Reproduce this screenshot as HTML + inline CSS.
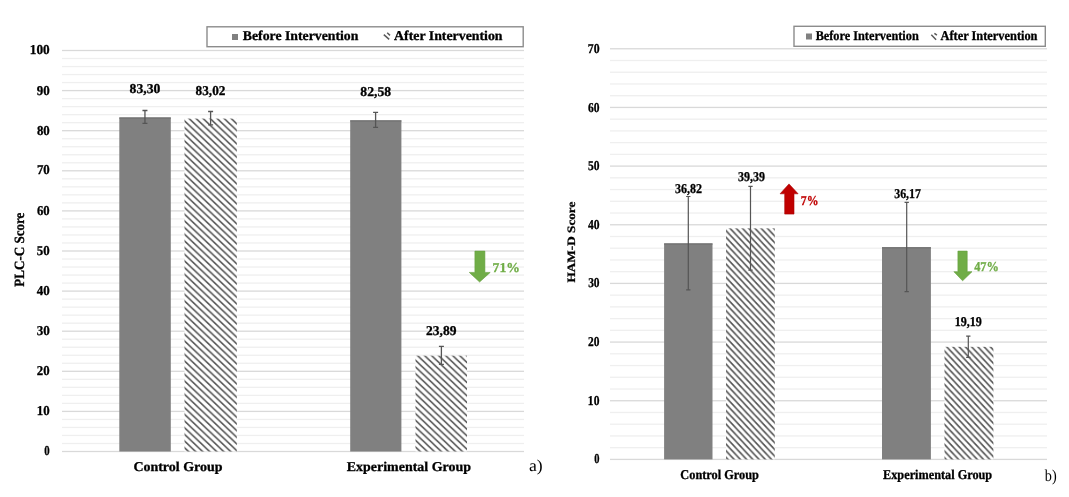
<!DOCTYPE html><html><head><meta charset="utf-8"><style>
html,body{margin:0;padding:0;background:#fff;width:1069px;height:497px;overflow:hidden}
svg{display:block}svg{filter:blur(0.35px)}
text{font-family:"Liberation Serif",serif;text-rendering:geometricPrecision}
.b{font-weight:bold;font-size:13.5px;stroke-width:0.3px}
.r{font-weight:normal;font-size:16.5px}
</style></head><body>
<svg width="1069" height="497" viewBox="0 0 1069 497">
<defs>
<pattern id="hl" patternUnits="userSpaceOnUse" width="7.0211" height="6.67"><rect x="-1" y="-1" width="9.021" height="8.67" fill="#fff"/><path d="M-1.500,-2.495 L8.521,7.025 M-1.500,4.175 L8.521,13.695 M-1.500,10.845 L8.521,20.365" stroke="#555555" stroke-width="1.6"/></pattern>
<pattern id="hr" patternUnits="userSpaceOnUse" width="6.2336" height="6.67"><rect x="-1" y="-1" width="8.234" height="8.67" fill="#fff"/><path d="M-1.500,-7.475 L7.734,2.405 M-1.500,-0.805 L7.734,9.075 M-1.500,5.865 L7.734,15.745" stroke="#555555" stroke-width="1.6"/></pattern>
</defs>
<rect x="62" y="450.85" width="462" height="1.3" fill="#d9d9d9"/>
<rect x="62" y="442.83" width="462" height="1.3" fill="#efefef"/>
<rect x="62" y="434.81" width="462" height="1.3" fill="#efefef"/>
<rect x="62" y="426.79" width="462" height="1.3" fill="#efefef"/>
<rect x="62" y="418.77" width="462" height="1.3" fill="#efefef"/>
<rect x="62" y="410.75" width="462" height="1.3" fill="#d9d9d9"/>
<rect x="62" y="402.73" width="462" height="1.3" fill="#efefef"/>
<rect x="62" y="394.71" width="462" height="1.3" fill="#efefef"/>
<rect x="62" y="386.69" width="462" height="1.3" fill="#efefef"/>
<rect x="62" y="378.67" width="462" height="1.3" fill="#efefef"/>
<rect x="62" y="370.65" width="462" height="1.3" fill="#d9d9d9"/>
<rect x="62" y="362.63" width="462" height="1.3" fill="#efefef"/>
<rect x="62" y="354.61" width="462" height="1.3" fill="#efefef"/>
<rect x="62" y="346.59" width="462" height="1.3" fill="#efefef"/>
<rect x="62" y="338.57" width="462" height="1.3" fill="#efefef"/>
<rect x="62" y="330.55" width="462" height="1.3" fill="#d9d9d9"/>
<rect x="62" y="322.53" width="462" height="1.3" fill="#efefef"/>
<rect x="62" y="314.51" width="462" height="1.3" fill="#efefef"/>
<rect x="62" y="306.49" width="462" height="1.3" fill="#efefef"/>
<rect x="62" y="298.47" width="462" height="1.3" fill="#efefef"/>
<rect x="62" y="290.45" width="462" height="1.3" fill="#d9d9d9"/>
<rect x="62" y="282.43" width="462" height="1.3" fill="#efefef"/>
<rect x="62" y="274.41" width="462" height="1.3" fill="#efefef"/>
<rect x="62" y="266.39" width="462" height="1.3" fill="#efefef"/>
<rect x="62" y="258.37" width="462" height="1.3" fill="#efefef"/>
<rect x="62" y="250.35" width="462" height="1.3" fill="#d9d9d9"/>
<rect x="62" y="242.33" width="462" height="1.3" fill="#efefef"/>
<rect x="62" y="234.31" width="462" height="1.3" fill="#efefef"/>
<rect x="62" y="226.29" width="462" height="1.3" fill="#efefef"/>
<rect x="62" y="218.27" width="462" height="1.3" fill="#efefef"/>
<rect x="62" y="210.25" width="462" height="1.3" fill="#d9d9d9"/>
<rect x="62" y="202.23" width="462" height="1.3" fill="#efefef"/>
<rect x="62" y="194.21" width="462" height="1.3" fill="#efefef"/>
<rect x="62" y="186.19" width="462" height="1.3" fill="#efefef"/>
<rect x="62" y="178.17" width="462" height="1.3" fill="#efefef"/>
<rect x="62" y="170.15" width="462" height="1.3" fill="#d9d9d9"/>
<rect x="62" y="162.13" width="462" height="1.3" fill="#efefef"/>
<rect x="62" y="154.11" width="462" height="1.3" fill="#efefef"/>
<rect x="62" y="146.09" width="462" height="1.3" fill="#efefef"/>
<rect x="62" y="138.07" width="462" height="1.3" fill="#efefef"/>
<rect x="62" y="130.05" width="462" height="1.3" fill="#d9d9d9"/>
<rect x="62" y="122.03" width="462" height="1.3" fill="#efefef"/>
<rect x="62" y="114.01" width="462" height="1.3" fill="#efefef"/>
<rect x="62" y="105.99" width="462" height="1.3" fill="#efefef"/>
<rect x="62" y="97.97" width="462" height="1.3" fill="#efefef"/>
<rect x="62" y="89.95" width="462" height="1.3" fill="#d9d9d9"/>
<rect x="62" y="81.93" width="462" height="1.3" fill="#efefef"/>
<rect x="62" y="73.91" width="462" height="1.3" fill="#efefef"/>
<rect x="62" y="65.89" width="462" height="1.3" fill="#efefef"/>
<rect x="62" y="57.87" width="462" height="1.3" fill="#efefef"/>
<rect x="62" y="49.85" width="462" height="1.3" fill="#d9d9d9"/>
<rect x="119.3" y="117.47" width="51.50" height="334.03" fill="#808080"/>
<rect x="119.3" y="117.47" width="51.50" height="1.2" fill="#707070"/>
<path d="M144.95,110.50 V123.40 M142.45,110.50 H147.45 M142.45,123.40 H147.45" stroke="#555" stroke-width="1.3" fill="none"/>
<rect x="184.5" y="118.59" width="52.30" height="332.91" fill="url(#hl)"/>
<path d="M210.60,111.50 V124.90 M208.10,111.50 H213.10 M208.10,124.90 H213.10" stroke="#555" stroke-width="1.3" fill="none"/>
<rect x="350.2" y="120.35" width="51.20" height="331.15" fill="#808080"/>
<rect x="350.2" y="120.35" width="51.20" height="1.2" fill="#707070"/>
<path d="M375.60,112.40 V127.40 M373.10,112.40 H378.10 M373.10,127.40 H378.10" stroke="#555" stroke-width="1.3" fill="none"/>
<rect x="415.5" y="355.70" width="51.50" height="95.80" fill="url(#hl)"/>
<path d="M441.40,346.30 V364.40 M438.90,346.30 H443.90 M438.90,364.40 H443.90" stroke="#555" stroke-width="1.3" fill="none"/>
<rect x="207" y="26.8" width="316.2" height="19.9" fill="#fff" stroke="#8c8c8c" stroke-width="1.4"/>
<rect x="232" y="34" width="6" height="6" fill="#808080"/>
<path d="M383.8,34.6 L389.2,39.4 M387.2,32.8 L390,35.4" stroke="#5a5a5a" stroke-width="1.5" fill="none"/>
<path d="M474.9,251.1 H484.9 V272.4 H490.2 L479.6,282 L469.3,272.4 H474.9 Z" fill="#70ad47" stroke="#639d3d" stroke-width="0.6"/>
<rect x="610" y="458.75" width="437" height="1.3" fill="#d9d9d9"/>
<rect x="610" y="447.02" width="437" height="1.3" fill="#efefef"/>
<rect x="610" y="435.29" width="437" height="1.3" fill="#efefef"/>
<rect x="610" y="423.55" width="437" height="1.3" fill="#efefef"/>
<rect x="610" y="411.82" width="437" height="1.3" fill="#efefef"/>
<rect x="610" y="400.09" width="437" height="1.3" fill="#d9d9d9"/>
<rect x="610" y="388.36" width="437" height="1.3" fill="#efefef"/>
<rect x="610" y="376.63" width="437" height="1.3" fill="#efefef"/>
<rect x="610" y="364.89" width="437" height="1.3" fill="#efefef"/>
<rect x="610" y="353.16" width="437" height="1.3" fill="#efefef"/>
<rect x="610" y="341.43" width="437" height="1.3" fill="#d9d9d9"/>
<rect x="610" y="329.70" width="437" height="1.3" fill="#efefef"/>
<rect x="610" y="317.97" width="437" height="1.3" fill="#efefef"/>
<rect x="610" y="306.23" width="437" height="1.3" fill="#efefef"/>
<rect x="610" y="294.50" width="437" height="1.3" fill="#efefef"/>
<rect x="610" y="282.77" width="437" height="1.3" fill="#d9d9d9"/>
<rect x="610" y="271.04" width="437" height="1.3" fill="#efefef"/>
<rect x="610" y="259.31" width="437" height="1.3" fill="#efefef"/>
<rect x="610" y="247.57" width="437" height="1.3" fill="#efefef"/>
<rect x="610" y="235.84" width="437" height="1.3" fill="#efefef"/>
<rect x="610" y="224.11" width="437" height="1.3" fill="#d9d9d9"/>
<rect x="610" y="212.38" width="437" height="1.3" fill="#efefef"/>
<rect x="610" y="200.65" width="437" height="1.3" fill="#efefef"/>
<rect x="610" y="188.91" width="437" height="1.3" fill="#efefef"/>
<rect x="610" y="177.18" width="437" height="1.3" fill="#efefef"/>
<rect x="610" y="165.45" width="437" height="1.3" fill="#d9d9d9"/>
<rect x="610" y="153.72" width="437" height="1.3" fill="#efefef"/>
<rect x="610" y="141.99" width="437" height="1.3" fill="#efefef"/>
<rect x="610" y="130.25" width="437" height="1.3" fill="#efefef"/>
<rect x="610" y="118.52" width="437" height="1.3" fill="#efefef"/>
<rect x="610" y="106.79" width="437" height="1.3" fill="#d9d9d9"/>
<rect x="610" y="95.06" width="437" height="1.3" fill="#efefef"/>
<rect x="610" y="83.33" width="437" height="1.3" fill="#efefef"/>
<rect x="610" y="71.59" width="437" height="1.3" fill="#efefef"/>
<rect x="610" y="59.86" width="437" height="1.3" fill="#efefef"/>
<rect x="610" y="48.13" width="437" height="1.3" fill="#d9d9d9"/>
<rect x="664.1" y="243.41" width="48.40" height="215.99" fill="#808080"/>
<rect x="664.1" y="243.41" width="48.40" height="1.2" fill="#707070"/>
<path d="M688.30,196.50 V289.80 M686.15,196.50 H690.45 M686.15,289.80 H690.45" stroke="#555" stroke-width="1.2" fill="none"/>
<rect x="726.0" y="228.34" width="48.80" height="231.06" fill="url(#hr)"/>
<path d="M750.50,186.45 V270.10 M748.35,186.45 H752.65 M748.35,270.10 H752.65" stroke="#555" stroke-width="1.2" fill="none"/>
<rect x="882.0" y="247.23" width="48.90" height="212.17" fill="#808080"/>
<rect x="882.0" y="247.23" width="48.90" height="1.2" fill="#707070"/>
<path d="M906.70,202.45 V291.60 M904.55,202.45 H908.85 M904.55,291.60 H908.85" stroke="#555" stroke-width="1.2" fill="none"/>
<rect x="944.5" y="346.83" width="48.90" height="112.57" fill="url(#hr)"/>
<path d="M968.30,336.10 V357.30 M966.15,336.10 H970.45 M966.15,357.30 H970.45" stroke="#555" stroke-width="1.2" fill="none"/>
<rect x="794" y="26.3" width="251.3" height="20" fill="#fff" stroke="#8c8c8c" stroke-width="1.4"/>
<rect x="806" y="33.5" width="6" height="6" fill="#808080"/>
<path d="M931.3,34.7 L936.1,39.7 M934.4,33.3 L936.9,35.2" stroke="#5a5a5a" stroke-width="1.5" fill="none"/>
<path d="M784.7,214.1 V193.8 H780.1 L789,183.9 L798.1,193.8 H794 V214.1 Z" fill="#c00000" stroke="#a80000" stroke-width="0.6"/>
<path d="M957.9,251.1 H967.2 V271.7 H972 L962.6,280.8 L953.9,271.7 H957.9 Z" fill="#70ad47" stroke="#639d3d" stroke-width="0.6"/>
<text class="b" fill="#000" stroke="#000" transform="translate(29.78,53.60) scale(0.9832,1)">100</text>
<text class="b" fill="#000" stroke="#000" transform="translate(36.81,94.70) scale(0.9627,1)">90</text>
<text class="b" fill="#000" stroke="#000" transform="translate(36.92,134.56) scale(0.9544,1)">80</text>
<text class="b" fill="#000" stroke="#000" transform="translate(36.93,174.42) scale(0.9544,1)">70</text>
<text class="b" fill="#000" stroke="#000" transform="translate(36.92,215.08) scale(0.9423,1)">60</text>
<text class="b" fill="#000" stroke="#000" transform="translate(36.79,254.94) scale(0.9543,1)">50</text>
<text class="b" fill="#000" stroke="#000" transform="translate(36.80,294.80) scale(0.9608,1)">40</text>
<text class="b" fill="#000" stroke="#000" transform="translate(36.75,334.66) scale(0.9724,1)">30</text>
<text class="b" fill="#000" stroke="#000" transform="translate(36.86,375.32) scale(0.9482,1)">20</text>
<text class="b" fill="#000" stroke="#000" transform="translate(36.69,415.18) scale(0.9550,1)">10</text>
<text class="b" fill="#000" stroke="#000" transform="translate(44.31,455.32) scale(0.8020,1)">0</text>
<text class="b" fill="#000" stroke="#000" transform="translate(129.59,93.00) scale(1.0134,1)">83,30</text>
<text class="b" fill="#000" stroke="#000" transform="translate(195.60,95.38) scale(0.9807,1)">83,02</text>
<text class="b" fill="#000" stroke="#000" transform="translate(360.33,95.98) scale(1.0118,1)">82,58</text>
<text class="b" fill="#000" stroke="#000" transform="translate(426.11,335.18) scale(1.0005,1)">23,89</text>
<text class="b" fill="#000" stroke="#000" transform="translate(133.39,470.62) scale(1.0343,1)">Control Group</text>
<text class="b" fill="#000" stroke="#000" transform="translate(346.76,470.96) scale(1.0337,1)">Experimental Group</text>
<text class="b" fill="#000" stroke="#000" transform="translate(242.84,40.20) scale(1.0189,1)">Before Intervention</text>
<text class="b" fill="#000" stroke="#000" transform="translate(394.07,40.20) scale(1.0247,1)">After Intervention</text>
<text class="b" fill="#70ad47" stroke="#70ad47" transform="translate(492.56,271.74) scale(1.0119,1)">71%</text>
<text class="r" fill="#000" stroke="none" transform="translate(528.89,470.86) scale(1.0680,1)">a)</text>
<text class="b" fill="#000" stroke="#000" transform="translate(587.81,52.88) scale(0.8723,1)">70</text>
<text class="b" fill="#000" stroke="#000" transform="translate(588.10,111.52) scale(0.8537,1)">60</text>
<text class="b" fill="#000" stroke="#000" transform="translate(587.94,169.88) scale(0.8528,1)">50</text>
<text class="b" fill="#000" stroke="#000" transform="translate(587.93,229.04) scale(0.8589,1)">40</text>
<text class="b" fill="#000" stroke="#000" transform="translate(588.13,287.39) scale(0.8494,1)">30</text>
<text class="b" fill="#000" stroke="#000" transform="translate(588.07,345.75) scale(0.8468,1)">20</text>
<text class="b" fill="#000" stroke="#000" transform="translate(587.87,404.90) scale(0.8565,1)">10</text>
<text class="b" fill="#000" stroke="#000" transform="translate(594.32,462.78) scale(0.7777,1)">0</text>
<text class="b" fill="#000" stroke="#000" transform="translate(674.97,192.54) scale(0.8882,1)">36,82</text>
<text class="b" fill="#000" stroke="#000" transform="translate(738.04,181.46) scale(0.8876,1)">39,39</text>
<text class="b" fill="#000" stroke="#000" transform="translate(894.22,198.22) scale(0.8787,1)">36,17</text>
<text class="b" fill="#000" stroke="#000" transform="translate(954.76,326.44) scale(0.8933,1)">19,19</text>
<text class="b" fill="#000" stroke="#000" transform="translate(680.34,479.34) scale(0.9119,1)">Control Group</text>
<text class="b" fill="#000" stroke="#000" transform="translate(883.06,479.30) scale(0.9083,1)">Experimental Group</text>
<text class="b" fill="#000" stroke="#000" transform="translate(815.63,40.20) scale(0.9096,1)">Before Intervention</text>
<text class="b" fill="#000" stroke="#000" transform="translate(940.56,40.20) scale(0.9157,1)">After Intervention</text>
<text class="b" fill="#c00000" stroke="#c00000" transform="translate(800.79,204.64) scale(0.8728,1)">7%</text>
<text class="b" fill="#70ad47" stroke="#70ad47" transform="translate(974.13,270.82) scale(0.9176,1)">47%</text>
<text class="r" fill="#000" stroke="none" transform="translate(1044.87,480.84) scale(0.8620,1)">b)</text>
<text class="b" fill="#000" stroke="#000" text-anchor="middle" transform="translate(23.98,249.67) rotate(-90) scale(0.9679,1.0430)">PLC-C Score</text>
<text class="b" fill="#000" stroke="#000" text-anchor="middle" transform="translate(575.18,242.09) rotate(-90) scale(0.9788,0.8392)">HAM-D Score</text>
</svg></body></html>
